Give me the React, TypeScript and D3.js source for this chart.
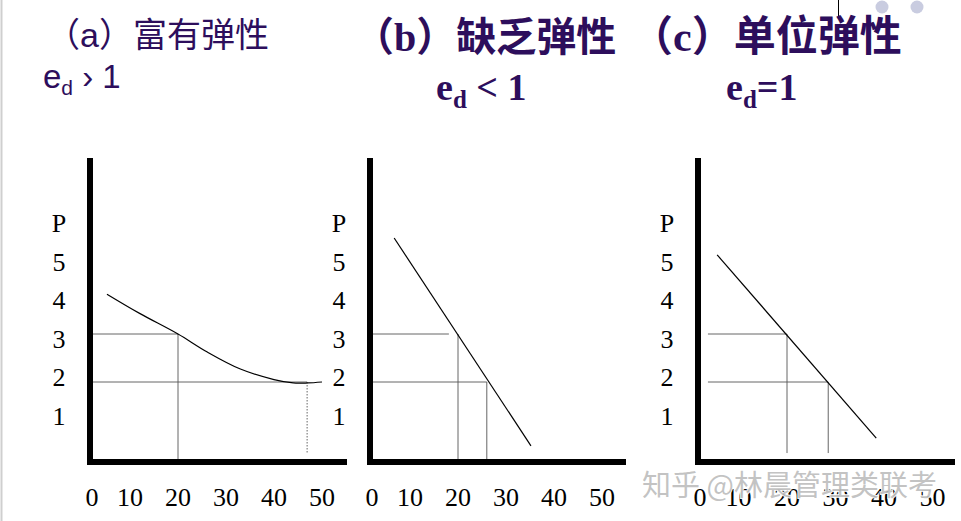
import React from "react";
import * as d3 from "d3";

// ---------- data ----------
const xTicks = [0, 10, 20, 30, 40, 50];
const yTickLabels = ["1", "2", "3", "4", "5", "P"];

// (a) elastic demand curve
const curveAQ = [5.2, 12, 20, 26, 33, 40, 44, 47, 50];
const curveAP = [3.83, 3.43, 3.0, 2.63, 2.27, 2.05, 1.98, 1.98, 2.0];
// (b) inelastic demand line
const lineBQ = [6.7, 35.2];
const lineBP = [5.0, 0.67];
// (c) unit elastic demand line
const lineCQ = [5.6, 38.4];
const lineCP = [4.65, 0.83];

// guide points (Q, P) for each panel
const guideAQ = [20, 46.9];
const guideAP = [3, 2];
const guideBQ = [20, 26];
const guideBP = [3, 2];
const guideCQ = [20, 28.5];
const guideCP = [3, 2];

const titleA = "（a）富有弹性";
const titleB = "（b）缺乏弹性";
const titleC = "（c）单位弹性";
const watermark = "知乎 @林晨管理类联考";

const PURPLE = "#2d0e5c";

type Panel = {
  axisX: number;
  axisEnd: number;
  pxPer10: number;
  q: number[];
  p: number[];
  smooth: boolean;
  gq: number[];
  gp: number[];
  hStart: number | null;
  hEnds: number[];
  vEnd: number | null;
  dotted: boolean[];
};

const panels: Panel[] = [
  {
    axisX: 90, axisEnd: 347, pxPer10: 48,
    q: curveAQ, p: curveAP, smooth: true,
    gq: guideAQ, gp: guideAP, hStart: null, hEnds: [20, 46.9], vEnd: null, dotted: [false, true],
  },
  {
    axisX: 370, axisEnd: 626, pxPer10: 48,
    q: lineBQ, p: lineBP, smooth: false,
    gq: guideBQ, gp: guideBP, hStart: null, hEnds: [18.1, 26], vEnd: null, dotted: [false, false],
  },
  {
    axisX: 698, axisEnd: 955, pxPer10: 48.5,
    q: lineCQ, p: lineCP, smooth: false,
    gq: guideCQ, gp: guideCP, hStart: 3.7, hEnds: [20, 28.5], vEnd: 0.52, dotted: [false, false],
  },
];

const AXIS_Y = 462;
const AXIS_TOP = 158;

const ys = d3.scaleLinear().domain([0, 1]).range([478, 430]);
const yLab = d3.scaleLinear().domain([0, 5]).range([425, 232]);

function PanelView({ pn }: { pn: Panel }) {
  const x0 = pn.axisX - 8;
  const xs = d3.scaleLinear().domain([0, 10]).range([x0, x0 + pn.pxPer10]);
  const pts: [number, number][] = pn.q.map((q, i) => [q, pn.p[i]]);
  const line = d3
    .line<[number, number]>()
    .x((d) => xs(d[0]))
    .y((d) => ys(d[1]))
    .curve(pn.smooth ? d3.curveCatmullRom.alpha(0.5) : d3.curveLinear);
  const axisRight = pn.axisX + 3;
  const labelX = pn.axisX - 31;
  return (
    <g>
      {pn.gq.map((q, i) => {
        const yy = ys(pn.gp[i]);
        const hx0 = pn.hStart === null ? axisRight : xs(pn.hStart);
        const vy1 = pn.vEnd === null ? AXIS_Y : ys(pn.vEnd);
        return (
          <g key={i} stroke="#555" strokeWidth={0.9} fill="none">
            <line x1={hx0} x2={xs(pn.hEnds[i])} y1={yy} y2={yy} />
            <line
              x1={xs(q)}
              x2={xs(q)}
              y1={yy}
              y2={pn.dotted[i] ? ys(0.5) : vy1}
              strokeDasharray={pn.dotted[i] ? "1.5,1.5" : undefined}
            />
          </g>
        );
      })}
      <path d={line(pts) || ""} fill="none" stroke="#000" strokeWidth={1.2} />
      <line x1={pn.axisX} x2={pn.axisX} y1={AXIS_TOP} y2={AXIS_Y + 3} stroke="#000" strokeWidth={6} />
      <line x1={pn.axisX - 3} x2={pn.axisEnd} y1={AXIS_Y} y2={AXIS_Y} stroke="#000" strokeWidth={6} />
      {yTickLabels.map((t, i) => (
        <text
          key={t}
          x={labelX}
          y={yLab(i)}
          textAnchor="middle"
          fontFamily="'Liberation Serif', serif"
          fontSize={26}
          fill="#000"
        >
          {t}
        </text>
      ))}
      {xTicks.map((v) => (
        <text
          key={v}
          x={v === 0 ? pn.axisX + 2 : xs(v)}
          y={506}
          textAnchor="middle"
          fontFamily="'Liberation Serif', serif"
          fontSize={26}
          fill="#000"
        >
          {v}
        </text>
      ))}
    </g>
  );
}

export default function App() {
  return (
    <svg
      width={961}
      height={521}
      viewBox="0 0 961 521"
      style={{ position: "absolute", left: 0, top: 0, background: "#fff" }}
    >
      <rect x={0} y={0} width={961} height={521} fill="#fff" />
      <line x1={1.5} x2={1.5} y1={0} y2={521} stroke="#cfcfcf" strokeWidth={2} />
      <line x1={838.5} x2={838.5} y1={0} y2={16} stroke="#000" strokeWidth={1} />
      <circle cx={882} cy={7} r={6.5} fill="#c9cce0" />
      <circle cx={917} cy={7} r={6.5} fill="#c9cce0" />

      <text x={46} y={47} fontFamily="'Liberation Sans', 'Noto Sans CJK SC', sans-serif" fontSize={34} fill={PURPLE}>
        {titleA}
      </text>
      <text x={43} y={88} fontFamily="'Liberation Sans', sans-serif" fontSize={33} fill={PURPLE}>
        e<tspan fontSize={21} dy={7}>d</tspan>
        <tspan dy={-7}> › 1</tspan>
      </text>

      <text x={354} y={51} fontFamily="'Liberation Serif', 'Noto Sans CJK SC', serif" fontWeight="bold" fontSize={40} fill={PURPLE}>
        {titleB}
      </text>
      <text x={436} y={100} fontFamily="'Liberation Serif', serif" fontWeight="bold" fontSize={38} fill={PURPLE}>
        e<tspan fontSize={25} dy={8}>d</tspan>
        <tspan dy={-8}> &lt; 1</tspan>
      </text>

      <text x={631} y={51} fontFamily="'Liberation Serif', 'Noto Sans CJK SC', serif" fontWeight="bold" fontSize={42} fill={PURPLE}>
        {titleC}
      </text>
      <text x={726} y={100} fontFamily="'Liberation Serif', serif" fontWeight="bold" fontSize={38} fill={PURPLE}>
        e<tspan fontSize={25} dy={8}>d</tspan>
        <tspan dy={-8}>=1</tspan>
      </text>

      {panels.map((pn, i) => (
        <PanelView key={i} pn={pn} />
      ))}

      <text
        x={642}
        y={496}
        fontFamily="'Noto Sans CJK SC', sans-serif"
        fontSize={29}
        fill="#b8b8b8"
        fillOpacity={0.85}
        stroke="#fff"
        strokeWidth={1.5}
        style={{ paintOrder: "stroke" }}
      >
        {watermark}
      </text>
    </svg>
  );
}
